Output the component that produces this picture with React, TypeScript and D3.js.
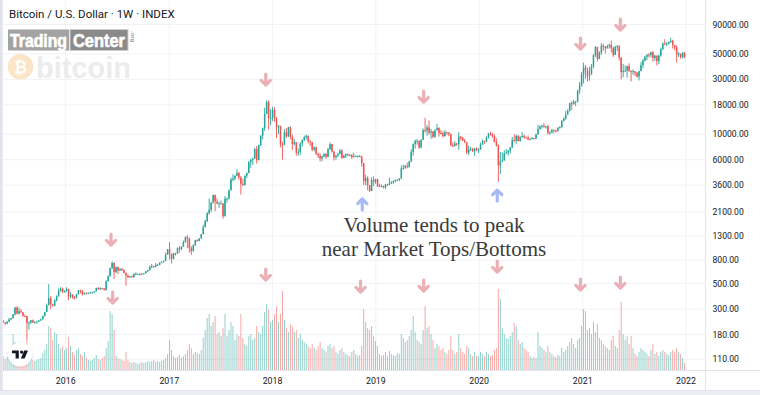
import React from 'react';
import * as d3 from 'd3';

// ---------- DATA (weekly candles, week starting Monday 2015-05-18) ----------
const firstWeek = '2015-05-18';
const firstOpen = 236;

const closes: number[] = [
  // 2015
  237,230,225,233,244,250,271,310,274,289,281,263,262,229,229,240,230,231,234,240,245,262,284,325,374,331,322,359,389,434,452,422,432,
  // 2016
  448,387,403,378,376,406,438,433,405,414,411,417,420,420,430,459,451,458,455,442,525,581,685,760,630,700,650,675,660,620,590,570,580,570,608,608,610,602,612,617,641,657,700,711,703,730,730,765,777,790,893,1000,
  // 2017
  908,820,922,915,1020,1000,1050,1150,1270,1230,1020,960,1080,1200,1180,1240,1350,1550,1750,2050,2200,2550,2950,2600,2500,2500,2500,1930,2750,2750,3250,4050,4100,4350,4600,4200,3700,3600,4350,4600,5700,6000,6150,7400,5950,8000,9700,11300,15000,19000,13800,13900,
  // 2018
  16300,13600,11500,11800,8200,8100,10400,9600,11500,9500,8200,8500,6900,7000,8300,8900,9400,9700,8700,8500,7350,7700,6750,6500,6150,6400,6750,6350,7400,8200,7050,6300,6500,6700,7200,6200,6500,6700,6600,6600,6300,6400,6450,6450,6350,5600,3900,4150,3600,3200,4000,3850,
  // 2019
  4050,3500,3550,3550,3420,3650,3620,3750,3800,3920,4000,4000,4100,5050,5100,5300,5200,5800,7000,8200,8750,8750,7650,8950,10850,10800,11450,10300,10550,9500,10800,11300,10250,10150,9600,10400,10350,10000,8050,7900,8300,8200,9550,9300,8800,8500,6900,7400,7500,7100,7500,7300,
  // 2020
  7350,8150,8700,8600,9350,10150,9900,9650,8550,8000,5350,5800,5900,6800,6900,7150,7650,8900,8750,9650,8700,9450,9650,9350,9300,9000,9050,9250,9150,9950,11050,11700,11850,11650,11700,10250,10350,10900,10750,10650,11400,11500,13050,13750,14800,15950,18650,18200,19150,19150,23850,26450,
  // 2021
  33000,38150,35800,32250,33100,38900,48600,57400,45200,51200,59000,57600,55800,58200,59800,56100,49000,57800,58200,46400,34700,35700,35800,39100,35500,34700,35300,34250,31800,35400,39900,43800,47000,49300,48900,51800,46000,48300,43200,48200,54900,61500,61000,61300,63300,65000,59700,57200,49400,50100,46700,50800,47300,
];

const highs: number[] = [
  247,241,232,237,253,252,272,315,318,312,300,284,270,262,235,242,244,236,235,241,248,264,285,336,495,390,334,366,396,455,467,462,438,
  465,452,424,404,392,407,442,445,440,420,420,419,425,425,432,462,469,465,461,458,535,590,688,780,765,705,705,680,680,665,625,600,585,590,615,630,612,612,614,620,645,660,720,745,717,755,745,770,780,795,935,1000,
  1150,915,925,930,1035,1065,1060,1190,1290,1330,1260,1060,1100,1210,1215,1250,1355,1630,1800,2100,2760,2560,2980,2980,2770,2580,2640,2420,2900,2800,3300,4180,4480,4380,4960,4700,4330,4100,4380,4620,5850,6100,6230,7600,7900,8100,9760,11400,17000,19700,19600,16500,
  17250,17100,14100,12000,11800,8600,11100,11300,11600,11700,9900,9100,8500,7500,8500,9000,9700,9900,9700,8900,8500,7800,7800,6900,6800,6500,6800,6800,7600,8500,8200,7150,6600,6900,7400,7400,6600,6800,6800,6700,6700,6900,6550,6550,6600,6500,5600,4450,4300,3600,4200,4300,
  4100,4100,3700,3650,3560,3700,3700,4200,3900,3950,4020,4060,4150,5350,5450,5400,5650,5850,7400,8300,8950,9100,8800,9000,11200,13880,12000,13200,11100,10600,11000,12300,11500,10900,10600,10900,10450,10350,10050,8450,8700,8400,10400,9500,9500,9100,8500,7900,7750,7550,7600,7700,
  7550,8450,9000,8800,9600,10200,10500,10250,9950,9200,8150,7000,6950,7250,7450,7300,7750,9450,10000,9900,9850,9600,10400,9950,9550,9750,9300,9450,9280,10100,12100,11900,12100,12500,11800,12100,10600,11100,10950,10950,11450,11750,13300,14000,15900,16450,18800,19400,19900,19450,24300,28400,
  34800,41950,40100,37800,38500,40900,49700,58300,57500,52600,61800,61000,58600,60100,61300,64900,57600,58500,59600,59500,46600,40800,39500,39500,41300,35900,36600,35100,34700,35500,42600,45300,48100,49400,50500,51900,52900,48900,47300,49200,56600,62900,67000,63700,64200,69000,66300,59500,59100,51900,49500,51900,52000,
];

const lows: number[] = [
  232,228,219,222,233,240,250,265,271,271,279,258,258,162,199,225,228,226,225,232,236,244,259,283,325,300,316,317,350,386,426,414,417,
  425,360,374,370,364,372,400,411,395,402,405,409,412,415,418,428,440,441,447,435,436,520,575,670,550,620,607,645,645,615,480,560,563,564,565,600,600,592,596,606,614,630,650,680,690,695,725,725,755,765,790,890,
  810,750,815,880,910,930,975,1050,1140,1020,930,890,955,1070,1160,1170,1235,1350,1550,1720,2000,2100,2490,2130,2460,2280,2470,1840,1940,2530,2700,3250,3900,3960,4330,4000,2980,3550,3590,4150,4560,5100,5400,6100,5550,5900,7900,9000,10700,15000,11000,12000,
  13000,12800,9200,10000,7700,6000,8000,9300,9400,9000,7300,8000,6500,6500,6600,7800,8700,9000,8300,7900,7100,7100,6600,6200,5800,5800,6300,6100,6300,7300,6900,5900,6000,6300,6700,6100,6200,6200,6400,6450,6100,6300,6350,6250,6300,5200,3600,3600,3250,3150,3250,3550,
  3700,3500,3500,3450,3380,3350,3550,3600,3700,3700,3800,3900,3900,4100,4900,5000,5050,5100,5700,6500,7500,8100,7450,7600,8900,10300,9700,9900,9100,9200,9300,10800,9500,9900,9400,9550,9900,9600,7800,7700,7800,7900,7300,8850,8700,8400,6700,6550,7150,7000,6450,7100,
  6850,7350,8050,8250,8550,9150,9700,9300,8450,7800,3850,4500,5700,5900,6750,6500,6800,7600,8500,8200,8700,8600,9300,9150,9200,8850,8950,9150,9050,9150,9950,11000,11150,11350,11150,9900,9900,10200,10150,10400,10550,11200,11400,12900,13300,14800,15800,16300,18200,17600,19000,22400,
  26000,27700,30400,28800,29200,33400,37400,47000,43000,45000,49200,53300,50400,55600,55500,51500,47000,48800,52900,43800,30000,31200,34800,31000,34800,28800,32700,32000,31000,29300,35200,37500,42800,43900,46400,46500,42800,43400,39600,40800,47100,53900,59600,58100,60100,62300,55600,53600,42000,47000,45500,45500,45700,
];

// relative weekly volume (index units)
const volumes: number[] = [
  12,14,11,13,15,16,36,28,20,14,12,13,15,30,22,12,10,9,10,11,12,17,20,26,44,42,30,38,36,26,22,24,20,
  22,33,24,18,15,20,22,16,14,18,12,10,9,10,12,15,11,10,12,14,22,29,59,56,40,14,12,11,10,9,18,10,8,7,8,7,6,7,8,7,8,9,8,9,10,8,9,8,9,10,12,16,
  30,20,14,12,13,15,12,14,16,20,26,22,16,18,17,16,20,32,40,52,56,44,48,54,36,38,34,42,56,34,40,48,44,30,36,34,56,32,26,24,34,36,30,32,44,38,36,44,58,66,60,48,
  50,56,64,48,56,79,50,42,38,46,44,38,40,32,36,30,28,26,24,22,26,22,20,24,28,22,20,18,24,26,22,24,18,16,20,22,18,16,15,14,18,20,16,14,15,24,61,48,42,40,44,34,
  29,24,16,14,15,18,14,19,16,15,14,17,16,36,32,28,30,34,40,54,38,30,28,26,40,64,42,44,36,30,22,26,24,20,22,18,16,20,34,20,16,18,36,22,18,16,24,22,16,14,18,14,
  14,18,16,14,18,16,14,15,20,22,81,71,42,36,32,31,34,38,47,44,30,26,28,22,20,18,14,12,13,12,38,24,22,20,18,24,18,16,14,13,15,14,22,18,20,24,28,32,26,22,30,32,
  44,61,59,40,42,36,48,38,46,32,30,26,24,22,20,30,34,24,22,40,68,36,30,34,26,34,22,16,14,18,22,20,18,16,14,20,26,16,18,14,18,20,18,16,15,18,20,18,22,18,16,12,7,
];

const priceTicks = [90000, 50000, 30000, 18000, 10000, 6000, 3600, 2100, 1300, 800, 500, 300, 180, 110];
const yearTicks = [2016, 2017, 2018, 2019, 2020, 2021, 2022];

const priceArrowsDown = [
  { date: '2016-06-09', price: 1200 },
  { date: '2017-12-08', price: 29600 },
  { date: '2019-06-19', price: 21000 },
  { date: '2020-12-24', price: 60900 },
  { date: '2021-05-14', price: 89000 },
];
const priceArrowsUp = [
  { date: '2018-11-14', price: 2470 },
  { date: '2020-03-05', price: 2950 },
];
const volumeArrows = [
  { date: '2016-06-15', volume: 72 },
  { date: '2017-12-08', volume: 95 },
  { date: '2018-11-08', volume: 83 },
  { date: '2019-06-19', volume: 84 },
  { date: '2020-03-05', volume: 103 },
  { date: '2020-12-24', volume: 85 },
  { date: '2021-05-14', volume: 87 },
];

const titleText = 'Bitcoin / U.S. Dollar · 1W · INDEX';
const noteLines = ['Volume tends to peak', 'near Market Tops/Bottoms'];

// ---------- LAYOUT / STYLE ----------
const W = 760;
const H = 395;
const plotRight = 705;
const timeAxisTop = 370;
const timeAxisBottom = 390;
const UP = '#26a69a';
const DOWN = '#ef5350';
const GRID = '#f0f2f7';
const BORDER = '#e0e3eb';
const TEXT = '#131722';
const ARROW_RED = '#ebb0b5';
const ARROW_BLUE = '#a7baf3';
const axisFont = 'Roboto, "DejaVu Sans", sans-serif';

const parse = (s: string) => {
  const [y, m, d] = s.split('-').map(Number);
  return new Date(Date.UTC(y, m - 1, d));
};

const x = d3.scaleUtc()
  .domain([new Date(Date.UTC(2016, 0, 1)), new Date(Date.UTC(2022, 0, 1))])
  .range([65.7, 686]);
const y = d3.scaleLog().domain([110, 90000]).range([359.3, 24.5]);
const yVol = d3.scaleLinear().domain([0, 100]).range([timeAxisTop, 270]);

const start = parse(firstWeek);
const candles = closes.map((c, i) => {
  const o = i === 0 ? firstOpen : closes[i - 1];
  const date = d3.utcDay.offset(start, i * 7);
  return {
    date,
    o,
    c,
    h: Math.max(highs[i], o, c),
    l: Math.min(lows[i], o, c),
    v: volumes[i],
    up: c >= o,
  };
});

const fmt = d3.format('.2f');

function Arrow({ cx, cy, dir, color }: { cx: number; cy: number; dir: 'up' | 'down'; color: string }) {
  const s = dir === 'down' ? 1 : -1;
  const d = `M0,${-6 * s} L0,${5 * s} M-4.6,${0.4 * s} L0,${5 * s} L4.6,${0.4 * s}`;
  return (
    <path
      d={d}
      transform={`translate(${cx},${cy})`}
      fill="none"
      stroke={color}
      strokeWidth={3.2}
      strokeLinecap="round"
      strokeLinejoin="round"
    />
  );
}

export default function App() {
  const bodyW = 1.5;
  return (
    <div style={{ position: 'absolute', left: 0, top: 0 }}>
      <svg width={W} height={H} viewBox={`0 0 ${W} ${H}`} style={{ display: 'block' }}>
        <defs>
          <clipPath id="plotClip">
            <rect x={3} y={0} width={plotRight - 3} height={timeAxisTop} />
          </clipPath>
          <filter id="shadow" x="-50%" y="-50%" width="200%" height="200%">
            <feDropShadow dx="0" dy="0.5" stdDeviation="1" floodColor="#000" floodOpacity="0.18" />
          </filter>
        </defs>
        <rect x={0} y={0} width={W} height={H} fill="#ffffff" />

        {/* grid */}
        <g>
          {priceTicks.map((t) => (
            <line key={t} x1={0} x2={plotRight} y1={y(t)} y2={y(t)} stroke={GRID} strokeWidth={1} />
          ))}
          {yearTicks.map((yr) => {
            const xx = x(new Date(Date.UTC(yr, 0, 1)));
            return <line key={yr} x1={xx} x2={xx} y1={0} y2={timeAxisTop} stroke={GRID} strokeWidth={1} />;
          })}
        </g>

        {/* watermark logos */}
        <g>
          <rect x={8} y={29.5} width={61} height={21} fill="#a3a3a3" />
          <text x={10} y={47} fontFamily='"Liberation Sans", Arial, sans-serif' fontWeight="bold" fontSize={19}
            fill="#ffffff" stroke="#ffffff" strokeWidth={0.7} textLength={57} lengthAdjust="spacingAndGlyphs">Trading</text>
          <rect x={70} y={29.5} width={58} height={21} fill="#8a8a8a" stroke="#cfcfcf" strokeWidth={1} />
          <text x={73} y={47} fontFamily='"Liberation Sans", Arial, sans-serif' fontWeight="bold" fontSize={19}
            fill="#ffffff" stroke="#ffffff" strokeWidth={0.7} textLength={52} lengthAdjust="spacingAndGlyphs">Center</text>
          <text x={0} y={0} transform="translate(131,31) rotate(90)" fontFamily='"Liberation Sans", Arial, sans-serif'
            fontSize={6} fontWeight="bold" fill="#9a9a9a">.org</text>
          <circle cx={20.5} cy={66.8} r={12.8} fill="#fce4c6" />
          <text x={20.5} y={72.5} textAnchor="middle" fontFamily='"DejaVu Sans", sans-serif' fontWeight="bold"
            fontSize={16} fill="#ffffff">₿</text>
          <text x={36} y={77.5} fontFamily='"Liberation Sans", Arial, sans-serif' fontWeight="bold" fontSize={29}
            fill="#ececec">bitcoin</text>
        </g>

        {/* volume + candles */}
        <g clipPath="url(#plotClip)">
          {candles.map((k, i) => {
            const xx = x(k.date);
            return (
              <rect key={'v' + i} x={xx - 0.5} width={1} y={yVol(k.v)} height={yVol(0) - yVol(k.v)}
                fill={k.up ? UP : DOWN} opacity={0.5} />
            );
          })}
          {candles.map((k, i) => {
            const xx = x(k.date);
            const col = k.up ? UP : DOWN;
            const top = y(Math.max(k.o, k.c));
            const bot = y(Math.min(k.o, k.c));
            return (
              <g key={'c' + i}>
                <line x1={xx} x2={xx} y1={y(k.h)} y2={y(k.l)} stroke={col} strokeWidth={0.9} />
                <rect x={xx - bodyW / 2} width={bodyW} y={top} height={Math.max(1, bot - top)} fill={col} />
              </g>
            );
          })}
        </g>

        {/* arrows */}
        <g>
          {priceArrowsDown.map((a, i) => (
            <Arrow key={'pd' + i} cx={x(parse(a.date))} cy={y(a.price)} dir="down" color={ARROW_RED} />
          ))}
          {priceArrowsUp.map((a, i) => (
            <Arrow key={'pu' + i} cx={x(parse(a.date))} cy={y(a.price)} dir="up" color={ARROW_BLUE} />
          ))}
          {volumeArrows.map((a, i) => (
            <Arrow key={'va' + i} cx={x(parse(a.date))} cy={yVol(a.volume)} dir="down" color={ARROW_RED} />
          ))}
        </g>

        {/* annotation */}
        <g fontFamily='"Liberation Serif", "Times New Roman", serif' fontSize={21} fill="#3a3a3a" textAnchor="middle">
          <text x={434} y={231.5}>{noteLines[0]}</text>
          <text x={434} y={255.5}>{noteLines[1]}</text>
        </g>

        {/* title */}
        <text x={9} y={17.5} fontFamily={axisFont} fontSize={11.5} fill={TEXT}>{titleText}</text>

        {/* TradingView logo */}
        <g transform="translate(20,354.5)">
          <circle r={12} fill="#ffffff" filter="url(#shadow)" />
          <path d="M-8,-4 H-1.2 V4 H-4.4 V-1.2 H-8 Z" fill={TEXT} />
          <circle cx={1.6} cy={-2.4} r={1.6} fill={TEXT} />
          <path d="M4.2,-4 H8 L4.6,4 H0.8 Z" fill={TEXT} />
        </g>

        {/* axes frame */}
        <rect x={0} y={0} width={2.7} height={H} fill={BORDER} />
        <rect x={0} y={timeAxisBottom} width={W} height={H - timeAxisBottom} fill="#eceef3" />
        <line x1={0} x2={W} y1={timeAxisTop + 0.5} y2={timeAxisTop + 0.5} stroke={BORDER} strokeWidth={1} />
        <line x1={0} x2={W} y1={timeAxisBottom + 0.5} y2={timeAxisBottom + 0.5} stroke={BORDER} strokeWidth={1} />
        <line x1={plotRight + 0.5} x2={plotRight + 0.5} y1={0} y2={timeAxisBottom} stroke={BORDER} strokeWidth={1} />

        {/* price axis labels */}
        <g fontFamily={axisFont} fontSize={8.6} fill={TEXT}>
          {priceTicks.map((t) => (
            <text key={t} x={712.5} y={y(t) + 3.1}>{fmt(t)}</text>
          ))}
        </g>

        {/* time axis labels */}
        <g fontFamily={axisFont} fontSize={8.8} fill={TEXT} textAnchor="middle">
          {yearTicks.map((yr) => (
            <text key={yr} x={x(new Date(Date.UTC(yr, 0, 1)))} y={383.8}>{yr}</text>
          ))}
        </g>
      </svg>
    </div>
  );
}
